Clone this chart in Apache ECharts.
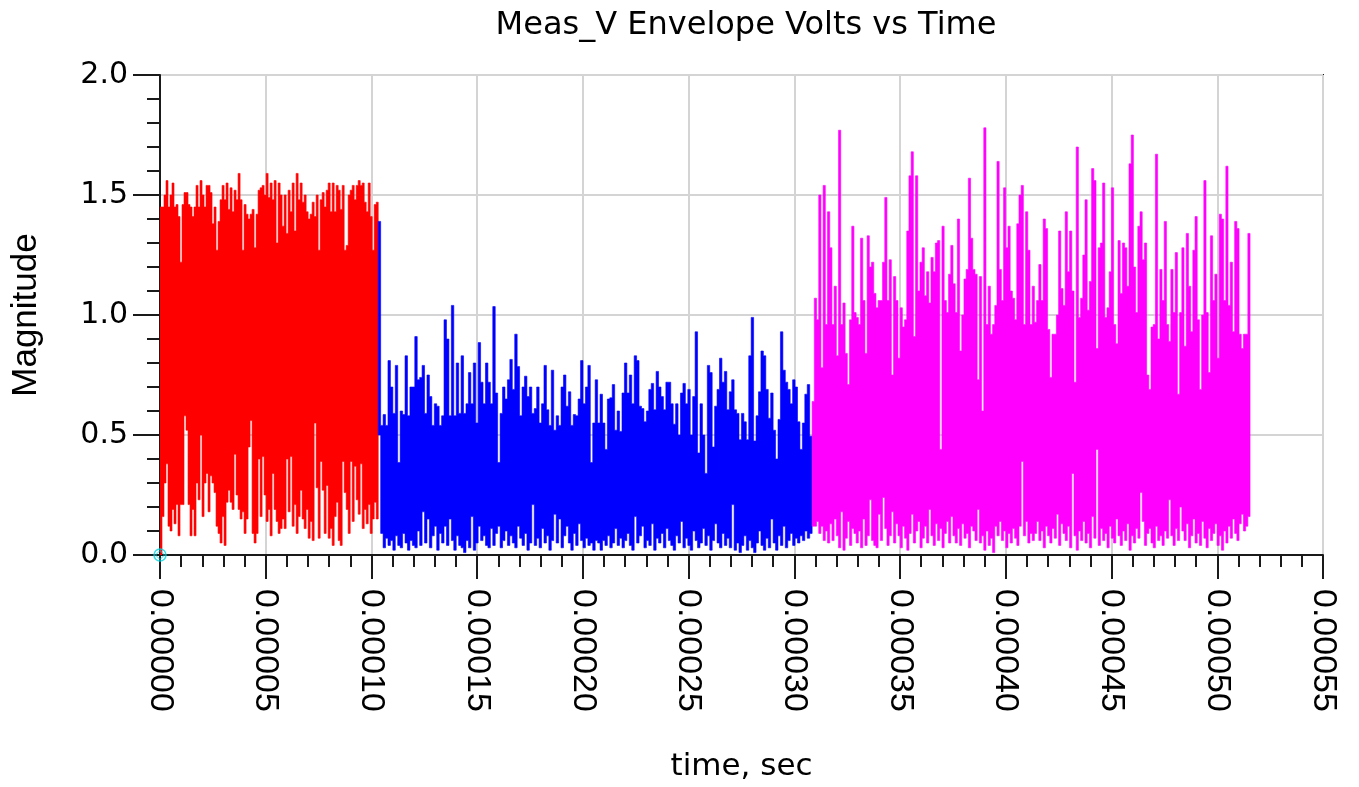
<!DOCTYPE html>
<html>
<head>
<meta charset="utf-8">
<script src="https://cdn.jsdelivr.net/npm/echarts@6/dist/echarts.min.js"></script>
<style>
html,body{margin:0;padding:0;background:#fff;}
#chart{width:1359px;height:787px;}
</style>
</head>
<body>
<div id="chart"></div>
<script>
// ---- Data (envelope of each segment, one column per sample) ----
const chartTitle = 'Meas_V Envelope Volts vs Time';
const xName = 'time, sec';
const yName = 'Magnitude';
const xTicks = [0, 0.00005, 0.0001, 0.00015, 0.0002, 0.00025, 0.0003, 0.00035, 0.0004, 0.00045, 0.0005, 0.00055];
const yTicks = [0, 0.5, 1.0, 1.5, 2.0];

// time span covered by each segment (seconds)
const redSpan = [0, 1.032e-4];
const blueSpan = [1.032e-4, 3.084e-4];
const magentaSpan = [3.084e-4, 5.155e-4];

const redHi = [
1.45,1.45,1.50,1.56,1.45,1.50,1.55,1.45,1.46,1.41,
1.22,1.46,1.51,1.51,1.46,1.45,1.41,1.45,1.54,1.45,
1.56,1.50,1.45,1.54,1.54,1.51,1.38,1.45,1.27,1.39,
1.48,1.54,1.48,1.55,1.44,1.53,1.43,1.52,1.48,1.59,
1.48,1.27,1.46,1.42,1.40,1.42,1.44,1.28,1.42,1.52,
1.53,1.54,1.50,1.59,1.49,1.55,1.48,1.56,1.30,1.55,
1.50,1.37,1.50,1.34,1.52,1.43,1.55,1.35,1.59,1.48,
1.55,1.47,1.50,1.43,1.40,1.42,1.47,1.41,1.50,1.27,
1.48,1.51,1.45,1.52,1.55,1.43,1.55,1.43,1.54,1.52,
1.44,1.54,1.27,1.29,1.50,1.52,1.54,1.48,1.54,1.56,
1.54,1.55,1.47,1.43,1.55,1.41,1.27,1.46,1.47];
const redLo = [
0.00,0.16,0.30,0.38,0.12,0.10,0.19,0.13,0.21,0.08,
0.21,0.21,0.58,0.52,0.21,0.08,0.19,0.08,0.30,0.23,
0.50,0.16,0.30,0.34,0.18,0.33,0.30,0.26,0.12,0.09,
0.05,0.16,0.04,0.22,0.27,0.22,0.19,0.42,0.25,0.19,
0.15,0.18,0.09,0.15,0.45,0.56,0.09,0.05,0.09,0.40,
0.16,0.41,0.25,0.14,0.19,0.08,0.34,0.19,0.14,0.09,
0.11,0.15,0.11,0.40,0.18,0.41,0.12,0.21,0.09,0.16,
0.27,0.15,0.11,0.19,0.07,0.14,0.06,0.55,0.28,0.07,
0.39,0.27,0.09,0.29,0.07,0.11,0.04,0.16,0.22,0.06,
0.04,0.39,0.26,0.19,0.09,0.39,0.14,0.37,0.23,0.17,
0.38,0.11,0.19,0.13,0.21,0.09,0.15,0.22,0.15];

const blueHi = [
1.39,0.54,0.585,0.54,0.81,0.70,0.59,0.79,0.385,0.60,
0.585,0.83,0.58,0.70,0.70,0.91,0.73,0.74,0.79,0.59,
0.75,0.66,0.54,0.63,0.62,0.54,0.58,0.98,0.90,0.58,
1.04,0.58,0.80,0.59,0.83,0.59,0.63,0.76,0.63,0.80,
0.55,0.885,0.72,0.63,0.80,0.72,0.63,1.035,0.675,0.385,
0.59,0.70,0.65,0.73,0.815,0.69,0.92,0.785,0.58,0.70,
0.745,0.66,0.70,0.59,0.61,0.70,0.55,0.63,0.79,0.605,
0.54,0.77,0.52,0.58,0.54,0.70,0.75,0.62,0.68,0.54,
0.585,0.58,0.65,0.81,0.63,0.70,0.79,0.385,0.55,0.73,
0.55,0.67,0.55,0.44,0.65,0.655,0.71,0.52,0.60,0.515,
0.675,0.80,0.675,0.75,0.63,0.83,0.81,0.62,0.61,0.555,
0.60,0.69,0.715,0.605,0.765,0.70,0.66,0.605,0.72,0.72,
0.63,0.545,0.63,0.50,0.675,0.715,0.63,0.69,0.50,0.66,
0.93,0.425,0.63,0.50,0.34,0.79,0.76,0.45,0.62,0.69,
0.82,0.72,0.765,0.605,0.68,0.73,0.605,0.59,0.48,0.59,
0.555,0.48,0.83,0.99,0.475,0.58,0.68,0.85,0.83,0.69,
0.57,0.675,0.52,0.40,0.565,0.93,0.77,0.72,0.69,0.63,
0.73,0.70,0.555,0.44,0.55,0.67,0.71,0.495];
const blueLo = [
0.50,0.09,0.03,0.07,0.04,0.06,0.02,0.08,0.04,0.03,
0.09,0.05,0.02,0.06,0.04,0.03,0.10,0.04,0.18,0.05,
0.15,0.03,0.08,0.12,0.02,0.09,0.05,0.12,0.04,0.15,
0.06,0.02,0.08,0.04,0.03,0.01,0.06,0.03,0.16,0.02,
0.05,0.12,0.06,0.08,0.04,0.03,0.11,0.04,0.09,0.12,
0.03,0.06,0.10,0.04,0.08,0.05,0.03,0.12,0.07,0.04,
0.09,0.02,0.05,0.21,0.04,0.07,0.03,0.11,0.05,0.08,
0.02,0.06,0.17,0.05,0.15,0.03,0.08,0.12,0.05,0.02,
0.09,0.04,0.13,0.06,0.03,0.07,0.04,0.05,0.02,0.06,
0.05,0.02,0.06,0.04,0.08,0.03,0.05,0.11,0.04,0.07,
0.03,0.06,0.09,0.04,0.02,0.16,0.05,0.08,0.12,0.03,
0.06,0.04,0.13,0.02,0.07,0.05,0.09,0.03,0.11,0.06,
0.04,0.02,0.08,0.05,0.14,0.03,0.07,0.04,0.02,0.10,
0.06,0.03,0.05,0.11,0.04,0.08,0.02,0.06,0.13,0.05,
0.03,0.09,0.04,0.07,0.03,0.21,0.02,0.05,0.01,0.04,
0.08,0.02,0.06,0.03,0.01,0.05,0.10,0.04,0.02,0.07,
0.03,0.15,0.05,0.02,0.08,0.04,0.12,0.03,0.06,0.09,
0.04,0.07,0.05,0.08,0.06,0.10,0.07,0.09];

const magentaHi = [
0.64,1.07,0.98,1.50,0.78,1.54,0.96,1.43,1.28,0.96,
1.12,0.83,1.77,0.96,1.05,0.84,0.71,0.98,1.37,1.01,
0.99,0.96,1.32,1.06,0.84,1.33,1.20,1.22,1.09,1.03,
1.06,1.06,1.22,1.49,1.06,1.23,0.75,1.16,1.06,0.82,
1.03,0.95,0.98,1.35,1.58,1.68,0.91,1.58,1.10,1.22,
1.28,1.08,1.18,1.05,1.24,1.18,1.30,1.31,0.44,1.37,
1.06,1.01,1.17,1.29,1.13,1.01,1.40,0.85,1.00,1.15,
1.19,1.57,1.32,1.19,1.17,0.73,1.16,0.60,1.78,0.96,
1.12,0.92,0.96,1.04,1.64,1.19,1.06,1.53,1.28,1.37,
1.10,1.07,0.98,1.38,1.50,1.54,0.96,1.43,1.27,0.96,
1.12,0.97,1.06,1.21,1.06,1.40,1.36,0.94,0.74,0.92,
0.92,1.00,1.35,1.11,1.04,1.43,1.18,1.35,1.10,0.72,
1.70,0.99,1.07,1.25,1.48,1.02,1.14,1.61,1.56,0.86,
1.28,1.30,1.55,0.99,1.03,1.18,1.53,0.96,0.88,1.31,
1.09,1.30,1.28,1.12,1.63,1.75,1.20,1.01,1.37,1.43,
1.23,1.30,0.75,0.69,0.95,0.96,1.67,0.90,1.19,1.06,
1.39,0.96,0.89,1.19,1.01,1.26,0.67,1.01,1.28,0.87,
1.34,1.12,0.93,1.27,1.41,0.98,0.69,1.00,1.56,1.01,
0.76,1.33,1.06,1.17,0.82,1.42,1.40,1.06,1.62,1.04,
1.22,0.93,1.39,1.36,0.92,0.86,0.92,0.92,1.34];
const magentaLo = [
0.12,0.12,0.14,0.09,0.12,0.06,0.10,0.05,0.13,0.06,
0.15,0.08,0.03,0.18,0.02,0.07,0.14,0.04,0.11,0.09,
0.05,0.10,0.03,0.15,0.04,0.08,0.23,0.06,0.04,0.03,
0.17,0.06,0.24,0.11,0.04,0.08,0.18,0.05,0.13,0.08,
0.03,0.12,0.07,0.02,0.09,0.17,0.05,0.10,0.14,0.03,
0.07,0.12,0.05,0.19,0.08,0.04,0.13,0.06,0.11,0.03,
0.09,0.14,0.05,0.16,0.08,0.05,0.11,0.04,0.13,0.07,
0.09,0.03,0.12,0.10,0.06,0.19,0.05,0.08,0.02,0.10,
0.04,0.07,0.01,0.12,0.08,0.14,0.06,0.10,0.03,0.09,
0.05,0.11,0.07,0.04,0.12,0.39,0.08,0.14,0.05,0.09,
0.06,0.09,0.14,0.06,0.10,0.03,0.12,0.08,0.05,0.11,
0.07,0.17,0.04,0.13,0.09,0.06,0.12,0.03,0.34,0.08,
0.02,0.10,0.06,0.14,0.05,0.09,0.03,0.16,0.07,0.44,
0.04,0.11,0.06,0.09,0.03,0.12,0.07,0.05,0.15,0.08,
0.04,0.10,0.06,0.13,0.02,0.08,0.05,0.11,0.07,0.26,
0.14,0.04,0.09,0.11,0.05,0.03,0.12,0.06,0.08,0.04,
0.10,0.07,0.23,0.08,0.04,0.11,0.06,0.20,0.10,0.06,
0.13,0.03,0.08,0.15,0.05,0.09,0.04,0.14,0.07,0.03,
0.11,0.06,0.09,0.13,0.04,0.08,0.02,0.10,0.05,0.12,
0.07,0.15,0.09,0.06,0.13,0.17,0.10,0.12,0.16];

const markerPoints = [[0, 0]];

// ---- build column tables: [tStart, lo, hi, tEnd] ----
function columns(span, lo, hi) {
  const n = Math.min(lo.length, hi.length);
  const dt = (span[1] - span[0]) / n;
  const out = [];
  for (let i = 0; i < n; i++) {
    out.push([span[0] + i * dt, lo[i], hi[i], span[0] + (i + 1) * dt]);
  }
  return out;
}

// Draw the whole envelope of a segment as one step-shaped polygon,
// with every vertex mapped through the chart's own scales (api.coord).
function renderEnvelope(table, color) {
  return function (params, api) {
    if (params.dataIndex !== 0) return null;
    const pts = [];
    for (let i = 0; i < table.length; i++) {
      const r = table[i];
      pts.push(api.coord([r[0], r[2]]));
      pts.push(api.coord([r[3], r[2]]));
    }
    for (let i = table.length - 1; i >= 0; i--) {
      const r = table[i];
      pts.push(api.coord([r[3], r[1]]));
      pts.push(api.coord([r[0], r[1]]));
    }
    return {
      type: 'polygon',
      shape: { points: pts },
      style: { fill: color, stroke: color, lineWidth: 0.6 },
      silent: true
    };
  };
}

function envSeries(name, span, lo, hi, color) {
  const table = columns(span, lo, hi);
  return {
    name: name,
    type: 'custom',
    renderItem: renderEnvelope(table, color),
    data: table,
    encode: { x: [0, 3], y: [1, 2] },
    clip: true,
    animation: false
  };
}

const axisColor = '#1a1a1a';
const chart = echarts.init(document.getElementById('chart'), null, { renderer: 'canvas' });
chart.setOption({
  backgroundColor: '#ffffff',
  animation: false,
  title: {
    text: chartTitle,
    left: 741,
    top: 5,
    textAlign: 'center',
    textStyle: { fontFamily: 'DejaVu Sans', fontSize: 32, fontWeight: 'normal', color: '#000' }
  },
  grid: {
    left: 160, right: 36, top: 75, bottom: 230,
    show: true, borderColor: axisColor, borderWidth: 2, backgroundColor: 'transparent'
  },
  xAxis: {
    type: 'value',
    min: xTicks[0], max: xTicks[xTicks.length - 1], interval: xTicks[1] - xTicks[0],
    name: xName, nameLocation: 'middle', nameGap: 196,
    nameTextStyle: { fontFamily: 'DejaVu Sans', fontSize: 31, color: '#000' },
    axisLine: { show: true, onZero: false, lineStyle: { color: axisColor, width: 2 } },
    axisTick: { show: true, length: 24, lineStyle: { color: axisColor, width: 2 } },
    minorTick: { show: true, splitNumber: 5, length: 12, lineStyle: { color: axisColor, width: 2 } },
    splitLine: { show: true, lineStyle: { color: '#d4d4d4', width: 2 } },
    axisLabel: {
      rotate: -90, margin: 34, color: '#000',
      fontFamily: 'Liberation Sans', fontSize: 34,
      formatter: v => v.toFixed(5)
    }
  },
  yAxis: {
    type: 'value',
    min: yTicks[0], max: yTicks[yTicks.length - 1], interval: yTicks[1] - yTicks[0],
    name: yName, nameLocation: 'middle', nameGap: 116,
    nameTextStyle: { fontFamily: 'Liberation Sans', fontSize: 35, color: '#000' },
    axisLine: { show: true, lineStyle: { color: axisColor, width: 2 } },
    axisTick: { show: true, length: 27, lineStyle: { color: axisColor, width: 2 } },
    minorTick: { show: true, splitNumber: 5, length: 13, lineStyle: { color: axisColor, width: 2 } },
    splitLine: { show: true, lineStyle: { color: '#d4d4d4', width: 2 } },
    axisLabel: {
      margin: 32, color: '#000',
      fontFamily: 'DejaVu Sans', fontSize: 30,
      formatter: v => v.toFixed(1)
    }
  },
  series: [
    envSeries('Meas_V (segment 1)', redSpan, redLo, redHi, '#ff0000'),
    envSeries('Meas_V (segment 2)', blueSpan, blueLo, blueHi, '#0000ff'),
    envSeries('Meas_V (segment 3)', magentaSpan, magentaLo, magentaHi, '#ff00ff'),
    {
      type: 'scatter', data: markerPoints, symbol: 'circle', symbolSize: 12,
      itemStyle: { color: 'rgba(0,0,0,0)', borderColor: '#00d4e0', borderWidth: 1.5 },
      silent: true, z: 5
    },
    {
      type: 'scatter', data: markerPoints, symbol: 'diamond', symbolSize: 9,
      itemStyle: { color: 'rgba(0,0,0,0)', borderColor: '#00d4e0', borderWidth: 1 },
      silent: true, z: 5
    }
  ]
});
</script>
</body>
</html>
